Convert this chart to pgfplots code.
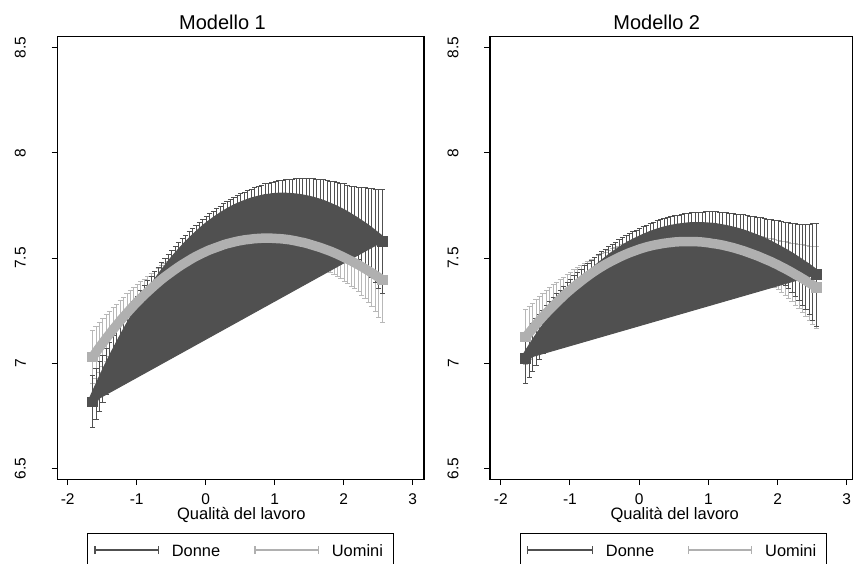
\documentclass[border=0pt]{standalone}
\usepackage{pgfplots}
\pgfplotsset{compat=1.18}
\usepackage{pgfplotstable}
\usepackage{fontspec}
\setmainfont{Liberation Sans}
\definecolor{dgray}{RGB}{80,80,80}
\definecolor{lgray}{RGB}{176,176,176}
\definecolor{lbar}{RGB}{184,184,184}

% Modello 1 - Donne
\pgfplotstableread{
x y e
-1.64 6.816 0.124
-1.59 6.853 0.120
-1.54 6.889 0.117
-1.49 6.925 0.113
-1.44 6.960 0.110
-1.39 6.994 0.106
-1.34 7.027 0.103
-1.29 7.059 0.100
-1.24 7.090 0.097
-1.19 7.121 0.094
-1.14 7.151 0.091
-1.09 7.180 0.088
-1.04 7.209 0.085
-0.99 7.237 0.082
-0.94 7.264 0.080
-0.89 7.290 0.077
-0.84 7.316 0.075
-0.79 7.341 0.073
-0.74 7.365 0.071
-0.69 7.388 0.069
-0.64 7.411 0.067
-0.59 7.433 0.065
-0.54 7.454 0.064
-0.49 7.475 0.062
-0.44 7.495 0.061
-0.39 7.514 0.060
-0.34 7.532 0.059
-0.29 7.550 0.058
-0.24 7.567 0.057
-0.19 7.583 0.056
-0.14 7.599 0.056
-0.09 7.614 0.055
-0.04 7.629 0.055
0.01 7.643 0.055
0.06 7.656 0.055
0.11 7.668 0.055
0.16 7.680 0.055
0.21 7.691 0.056
0.26 7.702 0.056
0.31 7.712 0.056
0.36 7.721 0.057
0.41 7.730 0.058
0.46 7.738 0.059
0.51 7.745 0.060
0.56 7.752 0.061
0.61 7.758 0.062
0.66 7.764 0.064
0.71 7.769 0.065
0.76 7.773 0.067
0.81 7.777 0.069
0.86 7.781 0.071
0.91 7.783 0.073
0.96 7.785 0.075
1.01 7.787 0.077
1.06 7.788 0.079
1.11 7.788 0.081
1.16 7.788 0.084
1.21 7.787 0.086
1.26 7.786 0.089
1.31 7.784 0.092
1.36 7.782 0.095
1.41 7.779 0.098
1.46 7.776 0.101
1.51 7.772 0.104
1.56 7.768 0.108
1.61 7.763 0.111
1.66 7.758 0.115
1.71 7.752 0.119
1.76 7.745 0.123
1.81 7.738 0.127
1.86 7.731 0.132
1.91 7.723 0.136
1.96 7.715 0.141
2.01 7.706 0.146
2.06 7.696 0.151
2.11 7.686 0.156
2.16 7.676 0.162
2.21 7.665 0.171
2.26 7.654 0.180
2.31 7.643 0.190
2.36 7.631 0.200
2.41 7.618 0.211
2.46 7.605 0.222
2.51 7.592 0.235
2.56 7.578 0.248
}\donA

% Modello 1 - Uomini
\pgfplotstableread{
x y e
-1.64 7.029 0.127
-1.59 7.052 0.123
-1.54 7.075 0.119
-1.49 7.097 0.115
-1.44 7.119 0.111
-1.39 7.140 0.107
-1.34 7.161 0.104
-1.29 7.181 0.100
-1.24 7.201 0.097
-1.19 7.220 0.093
-1.14 7.239 0.090
-1.09 7.257 0.087
-1.04 7.275 0.084
-0.99 7.292 0.081
-0.94 7.309 0.078
-0.89 7.325 0.075
-0.84 7.340 0.073
-0.79 7.355 0.070
-0.74 7.370 0.068
-0.69 7.384 0.066
-0.64 7.398 0.064
-0.59 7.411 0.062
-0.54 7.423 0.060
-0.49 7.435 0.058
-0.44 7.447 0.057
-0.39 7.458 0.055
-0.34 7.469 0.054
-0.29 7.479 0.053
-0.24 7.489 0.052
-0.19 7.499 0.051
-0.14 7.508 0.051
-0.09 7.516 0.050
-0.04 7.524 0.050
0.01 7.532 0.050
0.06 7.539 0.050
0.11 7.545 0.050
0.16 7.551 0.050
0.21 7.557 0.050
0.26 7.563 0.051
0.31 7.568 0.051
0.36 7.572 0.052
0.41 7.576 0.053
0.46 7.580 0.054
0.51 7.583 0.055
0.56 7.586 0.056
0.61 7.588 0.057
0.66 7.590 0.058
0.71 7.592 0.059
0.76 7.593 0.061
0.81 7.594 0.062
0.86 7.594 0.064
0.91 7.594 0.065
0.96 7.594 0.067
1.01 7.593 0.068
1.06 7.592 0.070
1.11 7.591 0.071
1.16 7.589 0.073
1.21 7.587 0.075
1.26 7.584 0.077
1.31 7.581 0.078
1.36 7.577 0.080
1.41 7.574 0.082
1.46 7.570 0.084
1.51 7.565 0.086
1.56 7.560 0.088
1.61 7.555 0.090
1.66 7.550 0.092
1.71 7.544 0.094
1.76 7.538 0.097
1.81 7.532 0.100
1.86 7.525 0.103
1.91 7.518 0.106
1.96 7.510 0.109
2.01 7.502 0.112
2.06 7.494 0.116
2.11 7.486 0.120
2.16 7.477 0.124
2.21 7.468 0.129
2.26 7.459 0.135
2.31 7.449 0.142
2.36 7.439 0.150
2.41 7.429 0.161
2.46 7.418 0.172
2.51 7.407 0.188
2.56 7.396 0.204
}\uomA

% Modello 2 - Donne
\pgfplotstableread{
x y e
-1.64 7.022 0.121
-1.59 7.049 0.117
-1.54 7.075 0.114
-1.49 7.100 0.110
-1.44 7.125 0.107
-1.39 7.149 0.103
-1.34 7.172 0.100
-1.29 7.195 0.097
-1.24 7.217 0.094
-1.19 7.238 0.091
-1.14 7.259 0.088
-1.09 7.279 0.085
-1.04 7.299 0.083
-0.99 7.318 0.080
-0.94 7.337 0.078
-0.89 7.355 0.076
-0.84 7.373 0.074
-0.79 7.390 0.072
-0.74 7.406 0.070
-0.69 7.421 0.068
-0.64 7.436 0.067
-0.59 7.451 0.065
-0.54 7.465 0.064
-0.49 7.478 0.063
-0.44 7.491 0.062
-0.39 7.504 0.061
-0.34 7.516 0.060
-0.29 7.527 0.059
-0.24 7.538 0.059
-0.19 7.548 0.058
-0.14 7.558 0.058
-0.09 7.567 0.058
-0.04 7.575 0.058
0.01 7.583 0.058
0.06 7.591 0.058
0.11 7.598 0.058
0.16 7.605 0.058
0.21 7.611 0.058
0.26 7.617 0.059
0.31 7.622 0.059
0.36 7.627 0.060
0.41 7.631 0.060
0.46 7.635 0.061
0.51 7.638 0.062
0.56 7.641 0.063
0.61 7.643 0.064
0.66 7.645 0.065
0.71 7.647 0.066
0.76 7.648 0.067
0.81 7.648 0.068
0.86 7.648 0.069
0.91 7.648 0.070
0.96 7.647 0.072
1.01 7.646 0.073
1.06 7.645 0.075
1.11 7.643 0.076
1.16 7.640 0.078
1.21 7.637 0.079
1.26 7.634 0.081
1.31 7.630 0.083
1.36 7.626 0.085
1.41 7.622 0.087
1.46 7.617 0.090
1.51 7.612 0.093
1.56 7.606 0.096
1.61 7.600 0.099
1.66 7.594 0.103
1.71 7.587 0.107
1.76 7.580 0.111
1.81 7.573 0.115
1.86 7.565 0.120
1.91 7.557 0.125
1.96 7.548 0.131
2.01 7.539 0.137
2.06 7.530 0.143
2.11 7.521 0.150
2.16 7.511 0.157
2.21 7.501 0.165
2.26 7.490 0.173
2.31 7.479 0.182
2.36 7.468 0.192
2.41 7.457 0.203
2.46 7.445 0.215
2.51 7.433 0.230
2.56 7.421 0.245
}\donB

% Modello 2 - Uomini
\pgfplotstableread{
x y e
-1.64 7.124 0.131
-1.59 7.144 0.126
-1.54 7.164 0.122
-1.49 7.184 0.118
-1.44 7.203 0.114
-1.39 7.221 0.110
-1.34 7.239 0.106
-1.29 7.256 0.102
-1.24 7.273 0.099
-1.19 7.289 0.095
-1.14 7.305 0.092
-1.09 7.321 0.088
-1.04 7.336 0.085
-0.99 7.350 0.082
-0.94 7.364 0.079
-0.89 7.377 0.076
-0.84 7.390 0.074
-0.79 7.403 0.071
-0.74 7.415 0.069
-0.69 7.427 0.067
-0.64 7.438 0.065
-0.59 7.449 0.063
-0.54 7.459 0.061
-0.49 7.469 0.059
-0.44 7.478 0.058
-0.39 7.487 0.056
-0.34 7.495 0.055
-0.29 7.503 0.054
-0.24 7.511 0.053
-0.19 7.518 0.052
-0.14 7.525 0.052
-0.09 7.531 0.051
-0.04 7.537 0.051
0.01 7.543 0.050
0.06 7.548 0.050
0.11 7.553 0.050
0.16 7.557 0.050
0.21 7.561 0.050
0.26 7.564 0.051
0.31 7.567 0.051
0.36 7.570 0.052
0.41 7.572 0.052
0.46 7.574 0.053
0.51 7.576 0.054
0.56 7.577 0.055
0.61 7.578 0.056
0.66 7.578 0.057
0.71 7.578 0.058
0.76 7.578 0.059
0.81 7.578 0.060
0.86 7.577 0.062
0.91 7.576 0.063
0.96 7.574 0.065
1.01 7.572 0.066
1.06 7.569 0.068
1.11 7.567 0.069
1.16 7.564 0.071
1.21 7.561 0.073
1.26 7.557 0.075
1.31 7.553 0.077
1.36 7.549 0.079
1.41 7.544 0.081
1.46 7.539 0.083
1.51 7.534 0.085
1.56 7.528 0.088
1.61 7.522 0.090
1.66 7.516 0.093
1.71 7.510 0.096
1.76 7.503 0.099
1.81 7.496 0.102
1.86 7.489 0.106
1.91 7.482 0.110
1.96 7.474 0.114
2.01 7.466 0.118
2.06 7.457 0.123
2.11 7.449 0.128
2.16 7.440 0.133
2.21 7.431 0.139
2.26 7.421 0.146
2.31 7.412 0.153
2.36 7.402 0.160
2.41 7.392 0.168
2.46 7.381 0.176
2.51 7.371 0.185
2.56 7.360 0.194
}\uomB

\pgfplotsset{
  stata/.style={
    scale only axis,
    anchor=south west,
    height=442.6pt,
    ymin=6.4477, ymax=8.5523,
    ytick={6.5,7,7.5,8,8.5},
    yticklabels={6.5,7,7.5,8,8.5},
    xtick={-2,-1,0,1,2,3},
    xticklabels={-2,-1,0,1,2,3},
    tick align=outside,
    tick pos=left,
    major tick length=5.7pt,
    axis line style={line width=1.1pt, black},
    tick style={black, line width=1pt},
    tick label style={font=\fontsize{15.5}{18}\selectfont},
    yticklabel style={xshift=-25.6pt, rotate=90, anchor=south, inner sep=0pt},
    xticklabel style={anchor=north, inner sep=0pt, yshift=-8.3pt},
  },
  ebar/.style={line width=0.6pt, color=#1, mark=none,
    error bars/.cd, y dir=both, y explicit,
    error bar style={line width=1pt, color=#1},
    error mark options={rotate=90, mark size=2.6pt, line width=1pt, color=#1}},
  band/.style={color=#1, line width=9.5pt, line join=round, mark=square*,
    mark size=4.7pt, mark repeat=84,
    mark options={line width=0pt, fill=#1, draw=#1}},
}

\newcommand{\tfont}{\fontsize{20}{24}\selectfont}
\newcommand{\lfont}{\fontsize{16.5}{19}\selectfont}
\newcommand{\legfont}{\fontsize{16.4}{19}\selectfont}

\begin{document}
\begin{tikzpicture}[x=1pt,y=1pt]
\useasboundingbox (0,0) rectangle (853,563);

% ---------- Modello 1 ----------
\begin{axis}[stata, at={(57.3pt,83.7pt)}, width=366.7pt, xmin=-2.151, xmax=3.164]
\addplot[ebar=lbar] table[x=x,y=y,y error=e]{\uomA};
\addplot[ebar=dgray] table[x=x,y=y,y error=e]{\donA};
\addplot[draw=dgray, fill=dgray, line width=1pt] table[x=x,y=y]{\donA} -- cycle;
\addplot[band=dgray] table[x=x,y=y]{\donA};
\addplot[band=lgray] table[x=x,y=y]{\uomA};
\end{axis}

% ---------- Modello 2 ----------
\begin{axis}[stata, at={(490pt,83.7pt)}, width=362.5pt, xmin=-2.155, xmax=3.083]
\addplot[ebar=lbar] table[x=x,y=y,y error=e]{\uomB};
\addplot[ebar=dgray] table[x=x,y=y,y error=e]{\donB};
\addplot[draw=dgray, fill=dgray, line width=1pt] table[x=x,y=y]{\donB} -- cycle;
\addplot[band=dgray] table[x=x,y=y]{\donB};
\addplot[band=lgray] table[x=x,y=y]{\uomB};
\end{axis}

% titles
\node[anchor=base, font=\tfont] at (222.5,533.7) {Modello 1};
\node[anchor=base, font=\tfont] at (656.7,533.7) {Modello 2};
% x labels
\node[anchor=base, font=\lfont] at (241.3,43.5) {Qualità del lavoro};
\node[anchor=base, font=\lfont] at (674.7,43.5) {Qualità del lavoro};

% legends
\draw[line width=1pt, black] (87.3,29.7) rectangle (393.3,-15);
\draw[dgray, line width=1.4pt] (95,13) -- (158.3,13);
\draw[dgray, line width=1.4pt] (95,9) -- (95,17) (158.3,9) -- (158.3,17);
\node[anchor=base west, inner sep=0pt, font=\legfont] at (171.7,6.3) {Donne};
\draw[lgray, line width=1.4pt] (255,13) -- (318.3,13);
\draw[lgray, line width=1.4pt] (255,9) -- (255,17) (318.3,9) -- (318.3,17);
\node[anchor=base west, inner sep=0pt, font=\legfont] at (331.7,6.3) {Uomini};

\draw[line width=1pt, black] (520,29.7) rectangle (826.7,-15);
\draw[dgray, line width=1.4pt] (527.3,13) -- (592.3,13);
\draw[dgray, line width=1.4pt] (527.3,9) -- (527.3,17) (592.3,9) -- (592.3,17);
\node[anchor=base west, inner sep=0pt, font=\legfont] at (605.7,6.3) {Donne};
\draw[lgray, line width=1.4pt] (688.3,13) -- (751.7,13);
\draw[lgray, line width=1.4pt] (688.3,9) -- (688.3,17) (751.7,9) -- (751.7,17);
\node[anchor=base west, inner sep=0pt, font=\legfont] at (765,6.3) {Uomini};
\end{tikzpicture}
\end{document}
